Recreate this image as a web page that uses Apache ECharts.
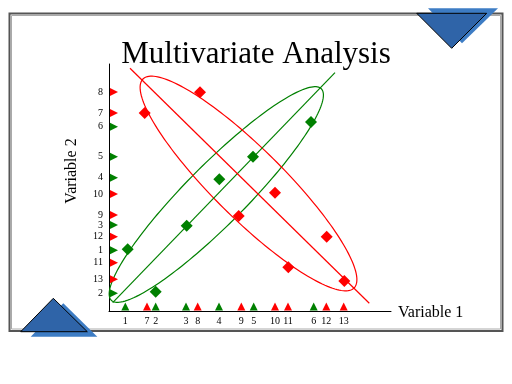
<!DOCTYPE html>
<html>
<head>
<meta charset="utf-8">
<style>html,body{margin:0;padding:0;background:#fff;}#chart{width:512px;height:384px;}</style>
<script src="https://cdn.jsdelivr.net/npm/echarts@6/dist/echarts.min.js"></script>
</head>
<body>
<div id="chart"></div>
<script>
// ---- data (units: Variable 1 / Variable 2 scale) ----
const greenIds = ['1','2','3','4','5','6'];
const greenX = [18.7, 46.7, 77.7, 110.3, 144.0, 202.0];
const greenY = [61.7, 19.3, 85.3, 131.7, 154.3, 189.0];
const redIds = ['7','8','9','10','11','12','13'];
const redX = [35.7, 91.0, 129.7, 166.0, 179.3, 217.7, 235.3];
const redY = [198.0, 218.7, 95.0, 118.3, 43.7, 74.3, 30.0];
// projection markers on the axes (as drawn)
const greenXMark = [16.3, 46.7, 77.0, 110.0, 144.7, 204.7];
const greenYMark = [60.7, 17.7, 86.0, 133.3, 154.3, 184.3];
const redXMark = [38.0, 88.7, 132.3, 166.0, 179.0, 217.3, 234.7];
const redYMark = [198.0, 219.0, 96.0, 117.0, 48.3, 74.3, 31.7];
// fitted shapes: ellipse [cx, cy, semiMajor, semiMinor, angleDeg], axis line endpoints
const greenEllipse = [107.3, 116.5, 149, 30, 45.2];
const redEllipse = [139.5, 127.5, 148.5, 35, -44.7];
const greenLine = [[3.7, 8.3], [226.0, 238.3]];
const redLine = [[21.0, 242.7], [260.3, 7.7]];
const xRange = [0, 282];
const yRange = [0, 247];

const GREEN = '#008000', RED = '#ff0000';
const SERIF = '"Liberation Serif", "DejaVu Serif", serif';

function zip(xs, ys, ids) { return xs.map((x, i) => ({ value: [x, ys[i]], name: ids ? ids[i] : '' })); }
function leftMarks(ys, ids) { return ys.map((y, i) => ({ value: [5, y], name: ids[i] })); }
function bottomMarks(xs, ids) { return xs.map((x, i) => ({ value: [x, 4.5], name: ids[i] })); }

function ellipseSeries(p, color) {
  return {
    type: 'custom', data: [p], z: 2, silent: true,
    renderItem: function (params, api) {
      const cx = api.value(0), cy = api.value(1), a = api.value(2), b = api.value(3);
      const th = api.value(4) * Math.PI / 180;
      const pts = [];
      for (let k = 0; k < 180; k++) {
        const t = 2 * Math.PI * k / 180;
        const x = cx + a * Math.cos(t) * Math.cos(th) - b * Math.sin(t) * Math.sin(th);
        const y = cy + a * Math.cos(t) * Math.sin(th) + b * Math.sin(t) * Math.cos(th);
        pts.push(api.coord([x, y]));
      }
      return { type: 'polygon', shape: { points: pts }, style: { fill: 'none', stroke: color, lineWidth: 1.2 } };
    }
  };
}

const chart = echarts.init(document.getElementById('chart'));
const labelLeft = { show: true, position: 'left', distance: 7, formatter: '{b}', color: '#000', fontFamily: SERIF, fontSize: 10 };
const labelBottom = { show: true, position: 'bottom', distance: 6, formatter: '{b}', color: '#000', fontFamily: SERIF, fontSize: 10 };
const solid = (c) => ({ color: c, opacity: 1 });

chart.setOption({
  animation: false,
  backgroundColor: '#fff',
  title: { text: 'Multivariate Analysis', left: 'center', top: 34,
    textStyle: { fontFamily: SERIF, fontSize: 31, fontWeight: 'normal', color: '#000' } },
  grid: { left: 109, right: 121, top: 64, bottom: 73, containLabel: false },
  xAxis: { type: 'value', min: xRange[0], max: xRange[1],
    axisLine: { show: true, onZero: false, lineStyle: { color: '#000', width: 1 } },
    axisTick: { show: false }, axisLabel: { show: false }, splitLine: { show: false } },
  yAxis: { type: 'value', min: yRange[0], max: yRange[1],
    axisLine: { show: true, onZero: false, lineStyle: { color: '#000', width: 1 } },
    axisTick: { show: false }, axisLabel: { show: false }, splitLine: { show: false } },
  graphic: [
    { type: 'rect', z: -10, shape: { x: 9.5, y: 13.5, width: 493, height: 317.5 }, style: { fill: 'none', stroke: '#555', lineWidth: 2 } },
    { type: 'rect', z: -10, shape: { x: 11.5, y: 15.5, width: 489, height: 313.5 }, style: { fill: 'none', stroke: '#aaa', lineWidth: 1 } },
    // top-right ornament
    { type: 'polygon', z: 100, shape: { points: [[428, 8.3], [498, 8.3], [462, 43.3]] }, style: { fill: '#3d7cc4' } },
    { type: 'polygon', z: 101, shape: { points: [[416.7, 13.3], [486.7, 13.3], [451.7, 48.3]] }, style: { fill: '#2f64a8', stroke: '#000', lineWidth: 1 } },
    // bottom-left ornament
    { type: 'polygon', z: 100, shape: { points: [[63.3, 303.3], [97.3, 336.7], [30.7, 336.7]] }, style: { fill: '#3d7cc4' } },
    { type: 'polygon', z: 101, shape: { points: [[53.3, 298.3], [87.3, 331.7], [20.7, 331.7]] }, style: { fill: '#2f64a8', stroke: '#000', lineWidth: 1 } },
    // axis names
    { type: 'text', z: 50, x: 398, y: 313, style: { text: 'Variable 1', fontFamily: SERIF, fontSize: 16, fill: '#000', align: 'left', verticalAlign: 'middle' } },
    { type: 'text', z: 50, x: 71.5, y: 171, rotation: Math.PI / 2, style: { text: 'Variable 2', fontFamily: SERIF, fontSize: 16, fill: '#000', align: 'center', verticalAlign: 'middle' } }
  ],
  series: [
    ellipseSeries(greenEllipse, GREEN),
    ellipseSeries(redEllipse, RED),
    { type: 'line', data: greenLine, symbol: 'none', z: 2, lineStyle: { color: GREEN, width: 1.2 } },
    { type: 'line', data: redLine, symbol: 'none', z: 2, lineStyle: { color: RED, width: 1.2 } },
    { type: 'scatter', data: zip(greenX, greenY, greenIds), symbol: 'diamond', symbolSize: 12, z: 5, itemStyle: solid(GREEN) },
    { type: 'scatter', data: zip(redX, redY, redIds), symbol: 'diamond', symbolSize: 12, z: 5, itemStyle: solid(RED) },
    { type: 'scatter', data: leftMarks(greenYMark, greenIds), symbol: 'triangle', symbolRotate: -90, symbolSize: 8, z: 5, itemStyle: solid(GREEN), label: labelLeft },
    { type: 'scatter', data: leftMarks(redYMark, redIds), symbol: 'triangle', symbolRotate: -90, symbolSize: 8, z: 5, itemStyle: solid(RED), label: labelLeft },
    { type: 'scatter', data: bottomMarks(greenXMark, greenIds), symbol: 'triangle', symbolSize: 8, z: 5, itemStyle: solid(GREEN), label: labelBottom },
    { type: 'scatter', data: bottomMarks(redXMark, redIds), symbol: 'triangle', symbolSize: 8, z: 5, itemStyle: solid(RED), label: labelBottom }
  ]
});
</script>
</body>
</html>
